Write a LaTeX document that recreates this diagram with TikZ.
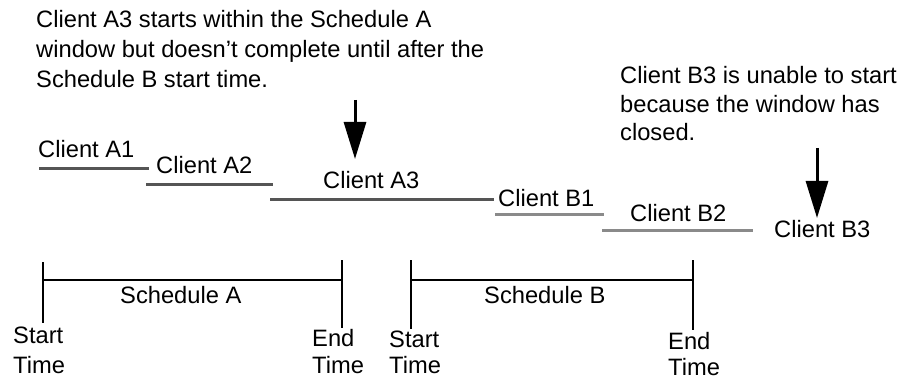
\documentclass[tikz,border=0pt]{standalone}
\usepackage{fontspec}
\setmainfont{Liberation Sans}
\usepackage{xcolor}
\usetikzlibrary{arrows.meta}
\definecolor{bardark}{RGB}{85,85,85}
\definecolor{barlight}{RGB}{138,138,138}

\begin{document}
\begin{tikzpicture}[x=1pt, y=-1pt, every node/.style={font=\fontsize{23.7}{29.5}\selectfont, inner sep=0pt, anchor=base west, align=left},
  clientbar/.style={line width=3pt}, schedline/.style={line width=2.5pt, black},
  pointer/.style={line width=3pt, -{Triangle[length=37pt,width=22pt]}}]
  \useasboundingbox (0,0) rectangle (904,379);
  % notes (anchored on the baseline of their last line)
  \node[font=\fontsize{23.7}{30}\selectfont] (noteA) at (36,88) {Client A3 starts within the Schedule A\\window but doesn’t complete until after the\\Schedule B start time.};
  \node[font=\fontsize{23.7}{28.5}\selectfont] (noteB) at (620,141) {Client B3 is unable to start\\because the window has\\closed.};
  % clients
  \node (cA1) at (38,158) {Client A1};
  \node (cA2) at (156,174) {Client A2};
  \node (cA3) at (323,189) {Client A3};
  \node (cB1) at (498,207) {Client B1};
  \node (cB2) at (630,222) {Client B2};
  \node (cB3) at (774,238) {Client B3};
  \draw[clientbar, bardark] (39,169) -- (149,169);
  \draw[clientbar, bardark] (146,185) -- (273,185);
  \draw[clientbar, bardark] (270,200) -- (494,200);
  \draw[clientbar, barlight] (495,215) -- (604,215);
  \draw[clientbar, barlight] (602,231) -- (753,231);
  % arrows
  \coordinate (tailA) at (355,100);
  \coordinate (tipA) at (355,159);
  \coordinate (tailB) at (817,148);
  \coordinate (tipB) at (817,218);
  \draw[pointer] (tailA) -- (tipA);
  \draw[pointer] (tailB) -- (tipB);
  % schedules
  \coordinate (sA) at (43,280);
  \coordinate (eA) at (342,280);
  \coordinate (sB) at (411,280);
  \coordinate (eB) at (693,280);
  \draw[schedline] (43,262) -- (43,323);
  \draw[schedline] (342,260) -- (342,328);
  \draw[schedline] (411,260) -- (411,329);
  \draw[schedline] (693,260) -- (693,330);
  \draw[schedline] (sA) -- (eA);
  \draw[schedline] (sB) -- (eB);
  \node (schA) at (120,303) {Schedule A};
  \node (schB) at (484,303) {Schedule B};
  \node[font=\fontsize{23.7}{30}\selectfont] (startA) at (13,373) {Start\\Time};
  \node[font=\fontsize{23.7}{27}\selectfont] (endA) at (312,373) {End\\Time};
  \node[font=\fontsize{23.7}{26}\selectfont] (startB) at (389,373) {Start\\Time};
  \node[font=\fontsize{23.7}{26}\selectfont] (endB) at (668,375) {End\\Time};
\end{tikzpicture}
\end{document}
